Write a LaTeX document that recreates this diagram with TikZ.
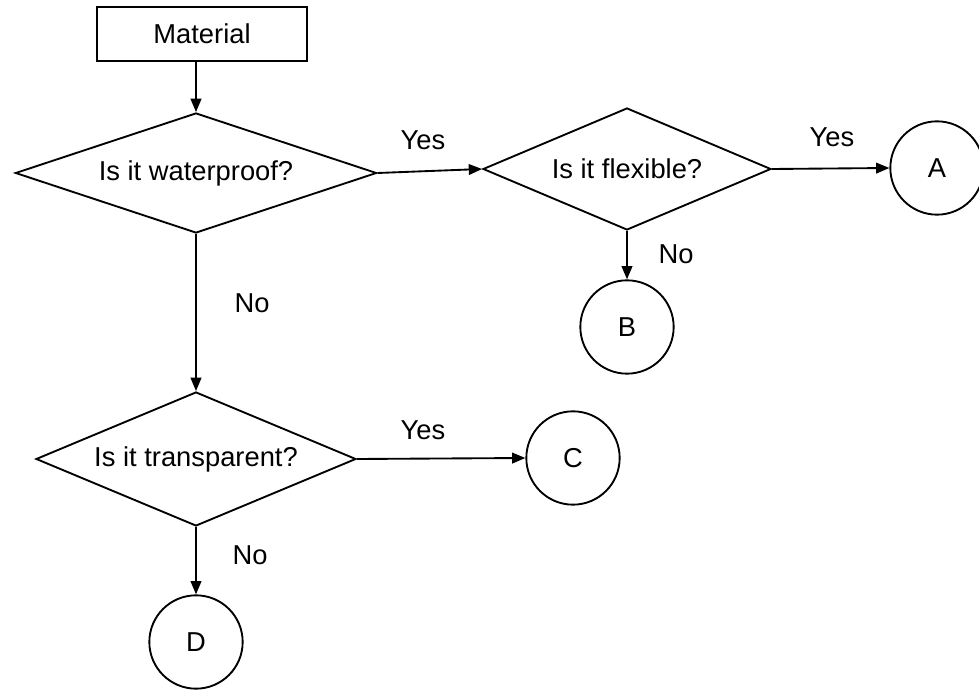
\documentclass[tikz,border=0pt]{standalone}
\usepackage{fontspec}
\setmainfont{Liberation Sans}
\usetikzlibrary{shapes.geometric,arrows.meta}
\begin{document}
\begin{tikzpicture}[x=0.75pt,y=-0.75pt,
  every node/.style={font=\fontsize{20.5}{24}\selectfont},
  arr/.style={line width=1.4pt,-{Triangle[length=10pt,width=8pt]}},
  startbox/.style={draw,line width=1.4pt,minimum width=157pt,minimum height=41pt,inner sep=0pt},
  decision/.style={draw,diamond,line width=1.4pt,inner sep=0pt,aspect=3},
  endpt/.style={draw,circle,line width=1.4pt,minimum size=70pt,inner sep=0pt},
  lbl/.style={inner sep=0pt}]
\useasboundingbox (0,0) rectangle (979,691);
\node[startbox] (mat) at (202,34) {Material};
\node[decision,minimum width=271pt,minimum height=90pt] (d1) at (196,173) {Is it waterproof?};
\node[decision,minimum width=216pt,minimum height=91.5pt] (d2) at (627,169) {Is it flexible?};
\node[decision,minimum width=240pt,minimum height=100.5pt] (d3) at (196,459) {Is it transparent?};
\node[endpt] (A) at (937,168) {A};
\node[endpt] (B) at (627,327) {B};
\node[endpt] (C) at (573,458) {C};
\node[endpt] (D) at (196,642) {D};
\draw[arr] (d1.north |- mat.south) -- (d1.north);
\draw[arr] (d1.east) -- (d2.west);
\draw[arr] (d2.east) -- (A.west);
\draw[arr] (d2.south) -- (B.north);
\draw[arr] (d1.south) -- (d3.north);
\draw[arr] (d3.east) -- (C.west);
\draw[arr] (d3.south) -- (D.north);
\node[lbl] (y1) at (423,140) {Yes};
\node[lbl] (y2) at (832,137) {Yes};
\node[lbl] (n2) at (676,254) {No};
\node[lbl] (n1) at (252,303) {No};
\node[lbl] (y3) at (423,430) {Yes};
\node[lbl] (n3) at (250,555) {No};
\end{tikzpicture}
\end{document}
